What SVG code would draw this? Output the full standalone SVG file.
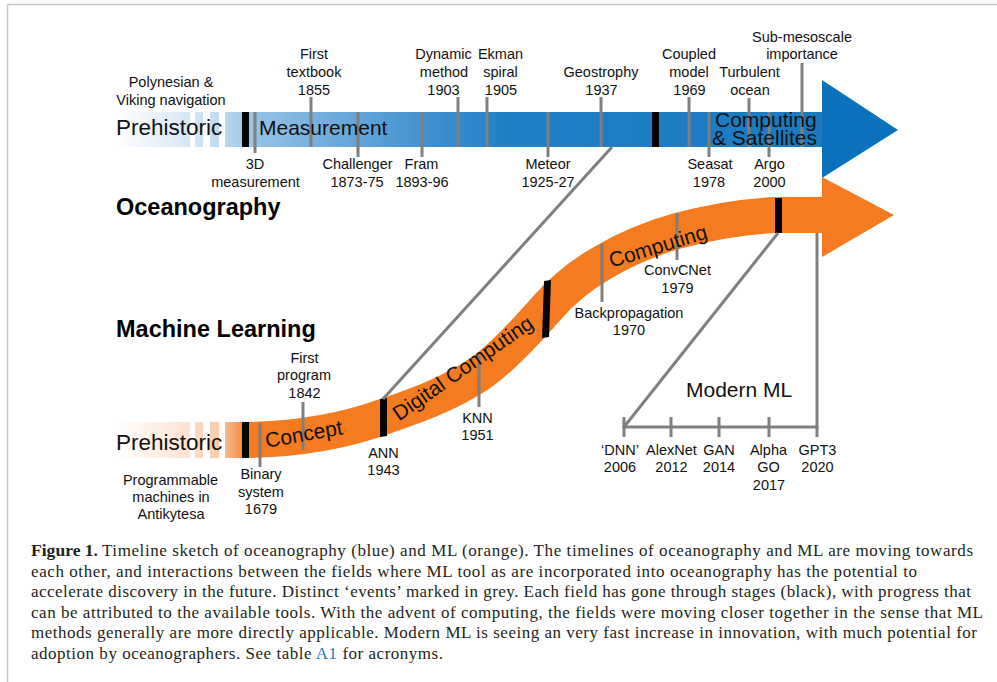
<svg xmlns="http://www.w3.org/2000/svg" width="997" height="682" viewBox="0 0 997 682">
<defs>
<linearGradient id="gb" gradientUnits="userSpaceOnUse" x1="115" y1="0" x2="822" y2="0">
<stop offset="0" stop-color="#ffffff"/>
<stop offset="0.106" stop-color="#d5e7f5"/>
<stop offset="0.135" stop-color="#c6def2"/>
<stop offset="0.156" stop-color="#b8d6ee"/>
<stop offset="0.18" stop-color="#a4cbe9"/>
<stop offset="0.2" stop-color="#94c1e5"/>
<stop offset="0.45" stop-color="#3d8fd0"/>
<stop offset="0.55" stop-color="#2080c6"/>
<stop offset="1" stop-color="#1b79c0"/>
</linearGradient>
<linearGradient id="go" gradientUnits="userSpaceOnUse" x1="115" y1="0" x2="822" y2="0">
<stop offset="0" stop-color="#ffffff"/>
<stop offset="0.106" stop-color="#fde2d0"/>
<stop offset="0.115" stop-color="#fbdac4"/>
<stop offset="0.15" stop-color="#f9c9a8"/>
<stop offset="0.156" stop-color="#f8ba8e"/>
<stop offset="0.18" stop-color="#f28c48"/>
<stop offset="0.19" stop-color="#f47b20"/>
<stop offset="1" stop-color="#f47b20"/>
</linearGradient>
<style>
.lb{font-family:"Liberation Sans",Arial,sans-serif;font-size:14.5px;fill:#111;text-anchor:middle}
.st{font-family:"Liberation Sans",Arial,sans-serif;font-size:21px;fill:#111}
.ti{font-family:"Liberation Sans",Arial,sans-serif;font-size:23.5px;font-weight:bold;fill:#000}
.ev{stroke:#7f7f7f;stroke-width:3;fill:none}
.bar{fill:#050505}
.cap{font-family:"Liberation Serif","Times New Roman",serif;font-size:17px;fill:#231f20}
</style>
</defs>
<rect width="997" height="682" fill="#ffffff"/>
<path d="M7.5,682 V4.5 H997" fill="none" stroke="#c8c8c8" stroke-width="1.5"/>

<g id="ocean-timeline">
<rect x="115" y="112" width="707" height="35" fill="url(#gb)"/>
<polygon points="822,80 898,130 822,178" fill="#0a71be"/>
<rect x="190" y="110" width="5" height="39" fill="#fff"/>
<rect x="203" y="110" width="7" height="39" fill="#fff"/>
<rect x="219" y="110" width="6" height="39" fill="#fff"/>
<rect class="bar" x="242" y="112" width="7" height="35"/>
<rect class="bar" x="652" y="112" width="7" height="35"/>
</g>

<g id="ml-timeline">
<path d="M115,440 L240,440 C288,440 335,434 383,417 C415,406 447,395 479,374 C501,359 524,334 546,309 C565,287 583,274 602,263 C627,248 652,238 677,231 C711,222 744,216 778,215 L822,215" fill="none" stroke="url(#go)" stroke-width="36"/>
<polygon points="822,177 894,215 822,257" fill="#f47b20"/>
<rect x="190" y="418" width="5" height="44" fill="#fff"/>
<rect x="203" y="418" width="7" height="44" fill="#fff"/>
<rect x="219" y="418" width="6" height="44" fill="#fff"/>
<rect class="bar" x="242" y="422" width="7" height="36"/>
<polygon class="bar" points="380,399 387,398 387,436 380,437"/>
<polygon class="bar" points="544,281 551,280 549,337 542,338"/>
<rect class="bar" x="775" y="198" width="7" height="35"/>
</g>

<g id="connectors">
<line class="ev" x1="612" y1="147" x2="383" y2="399"/>
<line class="ev" x1="778" y1="233" x2="624" y2="427"/>
<line class="ev" x1="622.5" y1="427" x2="818.5" y2="427"/>
<line class="ev" x1="817" y1="233" x2="817" y2="437"/>
<line class="ev" x1="624" y1="417" x2="624" y2="437"/>
<line class="ev" x1="671" y1="417" x2="671" y2="437"/>
<line class="ev" x1="719" y1="417" x2="719" y2="437"/>
<line class="ev" x1="769" y1="417" x2="769" y2="437"/>
</g>

<g id="ocean-events">
<line class="ev" x1="255" y1="112" x2="255" y2="153"/>
<line class="ev" x1="311" y1="97" x2="311" y2="147"/>
<line class="ev" x1="358" y1="112" x2="358" y2="157"/>
<line class="ev" x1="422" y1="112" x2="422" y2="157"/>
<line class="ev" x1="458" y1="97" x2="458" y2="147"/>
<line class="ev" x1="487" y1="97" x2="487" y2="147"/>
<line class="ev" x1="548" y1="112" x2="548" y2="157"/>
<line class="ev" x1="601" y1="97" x2="601" y2="147"/>
<line class="ev" x1="689" y1="97" x2="689" y2="147"/>
<line class="ev" x1="709" y1="112" x2="709" y2="157"/>
<line class="ev" x1="749" y1="98" x2="749" y2="147"/>
<line class="ev" x1="769" y1="112" x2="769" y2="157"/>
<line class="ev" x1="802" y1="63" x2="802" y2="147"/>
</g>

<g id="ml-events">
<line class="ev" x1="260" y1="423" x2="260" y2="467"/>
<line class="ev" x1="303" y1="402" x2="303" y2="450"/>
<line class="ev" x1="479" y1="355" x2="479" y2="407"/>
<line class="ev" x1="602" y1="244" x2="602" y2="302"/>
<line class="ev" x1="677" y1="213" x2="677" y2="260"/>
</g>

<g id="ocean-labels">
<text class="st" x="116" y="135" style="font-size:22.5px">Prehistoric</text>
<text class="st" x="259" y="135">Measurement</text>
<text class="st" x="715" y="127">Computing</text>
<text class="st" x="712" y="145">&amp; Satellites</text>
<text class="ti" x="116" y="215">Oceanography</text>
<g id="ev-polynesian"><text class="lb" x="171" y="87">Polynesian &amp;</text><text class="lb" x="171" y="105">Viking navigation</text></g>
<g id="ev-3d"><text class="lb" x="255" y="169">3D</text><text class="lb" x="255.5" y="187">measurement</text></g>
<g id="ev-textbook"><text class="lb" x="314" y="59">First</text><text class="lb" x="314" y="77">textbook</text><text class="lb" x="314" y="95">1855</text></g>
<g id="ev-challenger"><text class="lb" x="357.5" y="169">Challenger</text><text class="lb" x="357" y="187">1873-75</text></g>
<g id="ev-fram"><text class="lb" x="421.5" y="169">Fram</text><text class="lb" x="422" y="187">1893-96</text></g>
<g id="ev-dynamic"><text class="lb" x="443.5" y="59">Dynamic</text><text class="lb" x="444" y="77">method</text><text class="lb" x="443.5" y="95">1903</text></g>
<g id="ev-ekman"><text class="lb" x="500.5" y="59">Ekman</text><text class="lb" x="500.5" y="77">spiral</text><text class="lb" x="501" y="95">1905</text></g>
<g id="ev-meteor"><text class="lb" x="548" y="169">Meteor</text><text class="lb" x="548" y="187">1925-27</text></g>
<g id="ev-geostrophy"><text class="lb" x="601" y="77">Geostrophy</text><text class="lb" x="601.5" y="95">1937</text></g>
<g id="ev-coupled"><text class="lb" x="689" y="59">Coupled</text><text class="lb" x="689" y="77">model</text><text class="lb" x="689.5" y="95">1969</text></g>
<g id="ev-seasat"><text class="lb" x="710" y="169">Seasat</text><text class="lb" x="709" y="187">1978</text></g>
<g id="ev-turbulent"><text class="lb" x="749.5" y="77">Turbulent</text><text class="lb" x="750" y="95">ocean</text></g>
<g id="ev-argo"><text class="lb" x="769.5" y="169">Argo</text><text class="lb" x="769.5" y="187">2000</text></g>
<g id="ev-submeso"><text class="lb" x="802" y="42">Sub-mesoscale</text><text class="lb" x="802" y="59">importance</text></g>
</g>

<g id="ml-labels">
<text class="st" x="116" y="450" style="font-size:22.5px">Prehistoric</text>
<text class="st" x="305" y="441" text-anchor="middle" transform="rotate(-10 305 441)">Concept</text>
<text class="st" x="467" y="374" text-anchor="middle" transform="rotate(-35 467 374)">Digital Computing</text>
<text class="st" x="660" y="253" text-anchor="middle" transform="rotate(-17 660 253)">Computing</text>
<text class="st" x="686" y="397">Modern ML</text>
<text class="ti" x="116" y="337">Machine Learning</text>
<g id="ev-antikytesa"><text class="lb" x="170.5" y="485">Programmable</text><text class="lb" x="171" y="502">machines in</text><text class="lb" x="171" y="519">Antikytesa</text></g>
<g id="ev-binary"><text class="lb" x="261" y="479">Binary</text><text class="lb" x="261" y="497">system</text><text class="lb" x="261" y="514">1679</text></g>
<g id="ev-program"><text class="lb" x="304.5" y="363">First</text><text class="lb" x="304" y="380">program</text><text class="lb" x="304.5" y="398">1842</text></g>
<g id="ev-ann"><text class="lb" x="383.5" y="458">ANN</text><text class="lb" x="383.5" y="475">1943</text></g>
<g id="ev-knn"><text class="lb" x="477.5" y="423">KNN</text><text class="lb" x="477.5" y="440">1951</text></g>
<g id="ev-backprop"><text class="lb" x="629" y="318">Backpropagation</text><text class="lb" x="629" y="335">1970</text></g>
<g id="ev-convcnet"><text class="lb" x="677.5" y="275">ConvCNet</text><text class="lb" x="677.5" y="293">1979</text></g>
<g id="ev-dnn"><text class="lb" x="620" y="455">‘DNN’</text><text class="lb" x="620" y="472">2006</text></g>
<g id="ev-alexnet"><text class="lb" x="671.5" y="455">AlexNet</text><text class="lb" x="671.5" y="472">2012</text></g>
<g id="ev-gan"><text class="lb" x="719" y="455">GAN</text><text class="lb" x="719" y="472">2014</text></g>
<g id="ev-alphago"><text class="lb" x="768.5" y="455">Alpha</text><text class="lb" x="768.5" y="472">GO</text><text class="lb" x="769" y="490">2017</text></g>
<g id="ev-gpt3"><text class="lb" x="817.5" y="455">GPT3</text><text class="lb" x="817.5" y="472">2020</text></g>
</g>

<g id="caption">
<text class="cap" x="31" y="556" font-weight="bold" textLength="67" lengthAdjust="spacingAndGlyphs">Figure 1.</text>
<text class="cap" x="102" y="556" textLength="871" lengthAdjust="spacing">Timeline sketch of oceanography (blue) and ML (orange). The timelines of oceanography and ML are moving towards</text>
<text class="cap" x="31" y="576.5" textLength="886" lengthAdjust="spacing">each other, and interactions between the fields where ML tool as are incorporated into oceanography has the potential to</text>
<text class="cap" x="31" y="597" textLength="940" lengthAdjust="spacing">accelerate discovery in the future. Distinct ‘events’ marked in grey. Each field has gone through stages (black), with progress that</text>
<text class="cap" x="31" y="617.5" textLength="952" lengthAdjust="spacing">can be attributed to the available tools. With the advent of computing, the fields were moving closer together in the sense that ML</text>
<text class="cap" x="31" y="638" textLength="946" lengthAdjust="spacing">methods generally are more directly applicable. Modern ML is seeing an very fast increase in innovation, with much potential for</text>
<text class="cap" x="31" y="658.5" textLength="412" lengthAdjust="spacing">adoption by oceanographers. See table <tspan fill="#2b7bb9">A1</tspan> for acronyms.</text>
</g>
</svg>
